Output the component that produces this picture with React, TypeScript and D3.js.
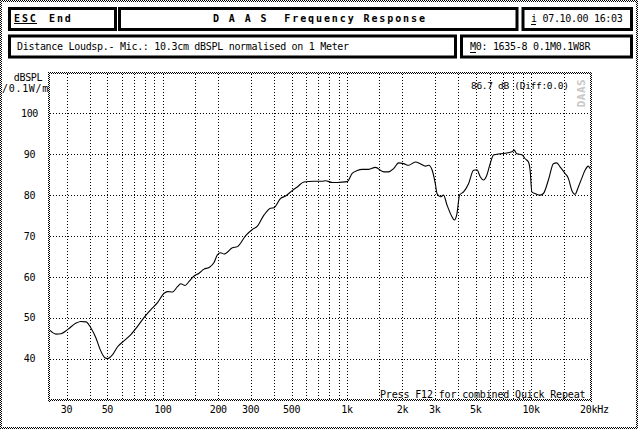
import React from "react";
import * as d3 from "d3";

const FREQS: number[] = [
  24.4, 26.3, 28.0, 30.4, 33.8, 35.9, 38.3, 40.7, 43.4, 45.7, 48.5, 50.1, 53.4, 56.8, 61.7, 67.1, 72.9,
  79.2, 86.1, 93.6, 101.6, 106.0, 112.9, 120.1, 125.2, 132.1, 138.9, 146.7, 157.3, 167.4, 178.2, 189.7,
  197.9, 206.2, 214.9, 238.7, 254.1, 281.8, 306.4, 326.1, 354.0, 384.9, 401.2, 436.2, 464.2, 504.7,
  537.2, 583.3, 660.9, 733.7, 764.8, 831.5, 885, 1003, 1067, 1136, 1209, 1313, 1427, 1583, 1685, 1793,
  1909, 2032, 2163, 2351, 2503, 2664, 2776, 2896, 3018, 3083, 3213, 3347, 3492, 3717, 3826, 3957, 4087,
  4297, 4574, 4869, 5078, 5292, 5514, 5702, 5995, 6247, 6792, 7384, 7861, 8090, 8365, 8905, 9279, 9670,
  9876, 10088, 10513, 11191, 11662, 12413, 13213, 13785, 14362, 15288, 15931, 16621, 17320, 18050,
  18830, 19620, 20450, 20880,
];
const SPL: number[] = [
  46.9, 46.0, 46.1, 47.1, 48.7, 49.1, 49.0, 47.5, 45.0, 42.2, 40.2, 40.0, 41.0, 42.9, 44.4, 45.9, 47.9,
  50.1, 52.0, 53.7, 56.0, 56.4, 56.3, 57.6, 58.3, 57.9, 58.9, 60.1, 60.9, 61.9, 62.3, 63.5,
  65.4, 65.9, 65.6, 67.1, 67.4, 70.1, 71.6, 72.4, 75.1, 76.8, 76.9, 79.2, 79.8, 81.1,
  82.0, 83.2, 83.4, 83.4, 83.5, 83.1, 83.1, 83.3, 85.3, 86.0, 86.3, 86.3, 86.8, 85.7, 85.7, 86.5,
  87.9, 87.7, 87.3, 88.1, 87.7, 87.1, 87.3, 86.2, 82.8, 80.4, 79.6, 80.0, 77.6, 74.7, 73.9, 75.5, 80.0,
  80.8, 82.8, 86.1, 86.2, 84.5, 83.7, 84.5, 87.7, 89.8, 90.1, 90.3, 90.6, 91.0, 90.1, 89.9, 88.9, 88.1,
  86.1, 80.8, 80.4, 80.0, 80.4, 83.7, 87.7, 87.9, 86.9, 85.3, 84.1, 81.2, 80.2, 82.0,
  84.1, 86.1, 87.1, 86.5,
];

const GRID_FREQS: number[] = [30, 40, 50, 60, 70, 80, 90, 100, 150, 200, 300, 400, 500, 600, 700, 800, 900,
  1000, 1500, 2000, 3000, 4000, 5000, 6000, 7000, 8000, 9000, 10000, 15000];
const GRID_DB: number[] = [40, 50, 60, 70, 80, 90, 100];
const X_TICKS: number[] = [30, 50, 100, 200, 300, 500, 1000, 2000, 3000, 5000, 10000];
const X_TICK_LABELS: string[] = ["30", "50", "100", "200", "300", "500", "1k", "2k", "3k", "5k", "10k"];
const Y_TICKS: number[] = [40, 50, 60, 70, 80, 90, 100];

const FONT = "'DejaVu Sans Mono', monospace";

export default function App() {
  const W = 640, H = 431;
  const x = d3.scaleLog().domain([24.4, 20880]).range([50, 590]);
  const y = d3.scaleLinear().domain([30, 110]).range([399.5, 72.5]);
  const data = FREQS.map((f, i) => [f, SPL[i]] as [number, number]);
  const line = d3.line<[number, number]>().x(d => x(d[0])).y(d => y(d[1])).curve(d3.curveMonotoneX);

  const px = (v: number) => Math.round(v) + 0.5;
  const txt = { fontFamily: FONT, fontSize: 10, letterSpacing: -0.3, fill: "#000" } as const;
  const bold = { fontFamily: FONT, fontSize: 10, fontWeight: 700, letterSpacing: 1.9, fill: "#000" } as const;

  return (
    <svg width={W} height={H} style={{ position: "absolute", left: 0, top: 0, background: "#fff" }}>
      <defs>
        <pattern id="chk" width="2" height="2" patternUnits="userSpaceOnUse">
          <rect x="0" y="0" width="1" height="1" fill="#000" />
          <rect x="1" y="1" width="1" height="1" fill="#000" />
        </pattern>
      </defs>
      <rect x={0} y={0} width={W} height={H} fill="#fff" />
      {/* outer frame */}
      <rect x={0} y={0} width={638} height={2} fill="url(#chk)" />
      <rect x={0} y={0} width={2} height={429} fill="url(#chk)" />
      <rect x={636} y={0} width={2} height={429} fill="url(#chk)" />
      <rect x={0} y={427} width={638} height={2} fill="url(#chk)" />

      {/* header boxes */}
      <g fill="none" stroke="#000" strokeWidth={3}>
        <rect x={9.5} y={8.5} width={106} height={21} />
        <rect x={119.5} y={8.5} width={397.5} height={21} />
        <rect x={523} y={8.5} width={108.5} height={21} />
        <rect x={9.5} y={36} width={446} height={21} />
        <rect x={461.5} y={36} width={170} height={21} />
      </g>
      <text x={14} y={22} style={bold}>ESC</text>
      <line x1={14} x2={37} y1={23.5} y2={23.5} stroke="#000" strokeWidth={1} />
      <text x={49} y={22} style={bold}>End</text>
      <text x={213} y={22} style={bold} xmlSpace="preserve">{"D A A S  Frequency Response"}</text>
      <text x={531} y={22} style={txt} xmlSpace="preserve">{"i 07.10.00 16:03"}</text>
      <line x1={531} x2={536} y1={24.5} y2={24.5} stroke="#000" strokeWidth={1} />
      <text x={17} y={50} style={txt} xmlSpace="preserve">{"Distance Loudsp.- Mic.: 10.3cm dBSPL normalised on 1 Meter"}</text>
      <text x={470} y={50} style={txt} xmlSpace="preserve">{"M0: 1635-8 0.1M0.1W8R"}</text>
      <line x1={470} x2={476} y1={52.5} y2={52.5} stroke="#000" strokeWidth={1} />

      {/* grid */}
      <g stroke="#000" strokeWidth={1} strokeDasharray="1 2" shapeRendering="crispEdges">
        {GRID_FREQS.map(f => (
          <line key={"v" + f} x1={px(x(f))} x2={px(x(f))} y1={74} y2={399} />
        ))}
        {GRID_DB.map(v => (
          <line key={"h" + v} x1={50} x2={590} y1={px(y(v))} y2={px(y(v))} />
        ))}
      </g>

      {/* plot border */}
      <rect x={48} y={72} width={544} height={2} fill="url(#chk)" />
      <rect x={48} y={72} width={2} height={330} fill="url(#chk)" />
      <rect x={590} y={72} width={2} height={330} fill="url(#chk)" />
      <rect x={48} y={399} width={544} height={2} fill="url(#chk)" />

      {/* curve */}
      <path d={line(data) || ""} fill="none" stroke="#000" strokeWidth={1.1} />

      {/* y axis labels */}
      <text x={28} y={81} textAnchor="middle" style={txt}>dBSPL</text>
      <text x={2} y={92} style={txt} textLength={46} lengthAdjust="spacing">/0.1W/m</text>
      {Y_TICKS.map(v => (
        <text key={"yt" + v} x={29.5} y={y(v) + 3.7} textAnchor="middle" style={txt}>{v}</text>
      ))}
      {/* x axis labels */}
      {X_TICKS.map((f, i) => (
        <text key={"xt" + f} x={x(f)} y={413} textAnchor="middle" style={txt}>{X_TICK_LABELS[i]}</text>
      ))}
      <text x={x(20000) - 6.5} y={413} style={txt}>20kHz</text>

      <text x={471} y={88.5} style={{ ...txt, fontSize: 9.5 }} xmlSpace="preserve">{"86.7 dB (Diff:0.0)"}</text>
      <text x={0} y={0} transform="translate(585,93) rotate(-90)" textAnchor="middle"
        style={{ fontFamily: FONT, fontSize: 11, fontWeight: 700, fill: "#c8c8c8", letterSpacing: 0.5 }}>DAAS</text>
      <text x={380} y={397.5} style={{ ...txt, letterSpacing: -0.15 }} xmlSpace="preserve">{"Press F12 for combined Quick Repeat"}</text>
    </svg>
  );
}
